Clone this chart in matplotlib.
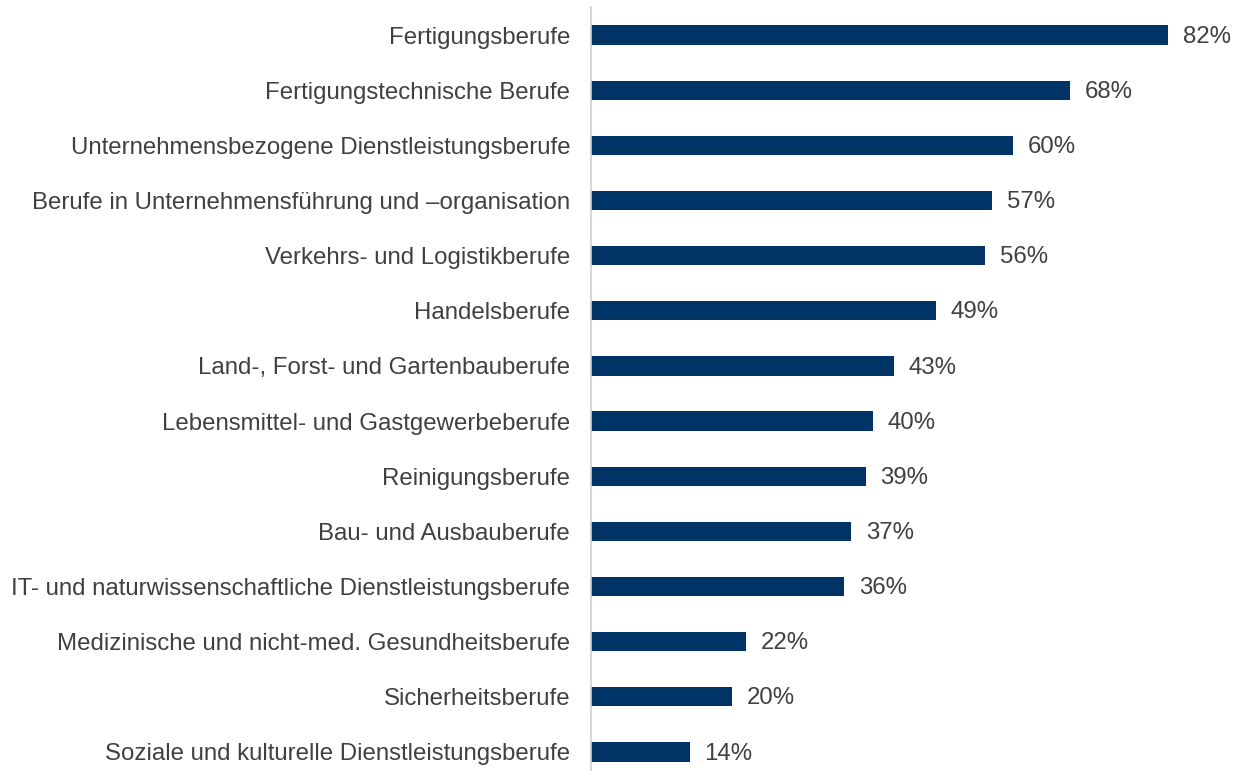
import matplotlib.pyplot as plt

plt.rcParams['font.family'] = ['Liberation Sans', 'DejaVu Sans']

categories = [
    'Fertigungsberufe',
    'Fertigungstechnische Berufe',
    'Unternehmensbezogene Dienstleistungsberufe',
    'Berufe in Unternehmensführung und \u2013organisation',
    'Verkehrs- und Logistikberufe',
    'Handelsberufe',
    'Land-, Forst- und Gartenbauberufe',
    'Lebensmittel- und Gastgewerbeberufe',
    'Reinigungsberufe',
    'Bau- und Ausbauberufe',
    'IT- und naturwissenschaftliche Dienstleistungsberufe',
    'Medizinische und nicht-med. Gesundheitsberufe',
    'Sicherheitsberufe',
    'Soziale und kulturelle Dienstleistungsberufe',
]
values = [82, 68, 60, 57, 56, 49, 43, 40, 39, 37, 36, 22, 20, 14]

bar_color = '#003466'
text_color = '#404040'
fs = 17.3

fig = plt.figure(figsize=(12.4, 7.71), dpi=100)
ax = fig.add_axes([591 / 1240, 0, 1 - 591 / 1240, 1 - 7 / 771])

pos = list(range(len(categories)))
ax.barh(pos, values, height=0.35, color=bar_color)

for y, v in zip(pos, values):
    ax.text(v + 2.1, y + 0.03, f'{v}%', va='center', ha='left',
            fontsize=fs, color=text_color)

ax.set_xlim(0, 92.2)
ax.set_ylim(13.345, -0.508)
ax.set_yticks(pos)
ax.set_yticklabels(categories, fontsize=fs, color=text_color)
ax.tick_params(axis='y', length=0, pad=15)
ax.set_xticks([])

for s in ['top', 'right', 'bottom']:
    ax.spines[s].set_visible(False)
ax.spines['left'].set_color('#d0d0d0')
ax.spines['left'].set_linewidth(1.2)

fig.savefig('out.png', dpi=100)
